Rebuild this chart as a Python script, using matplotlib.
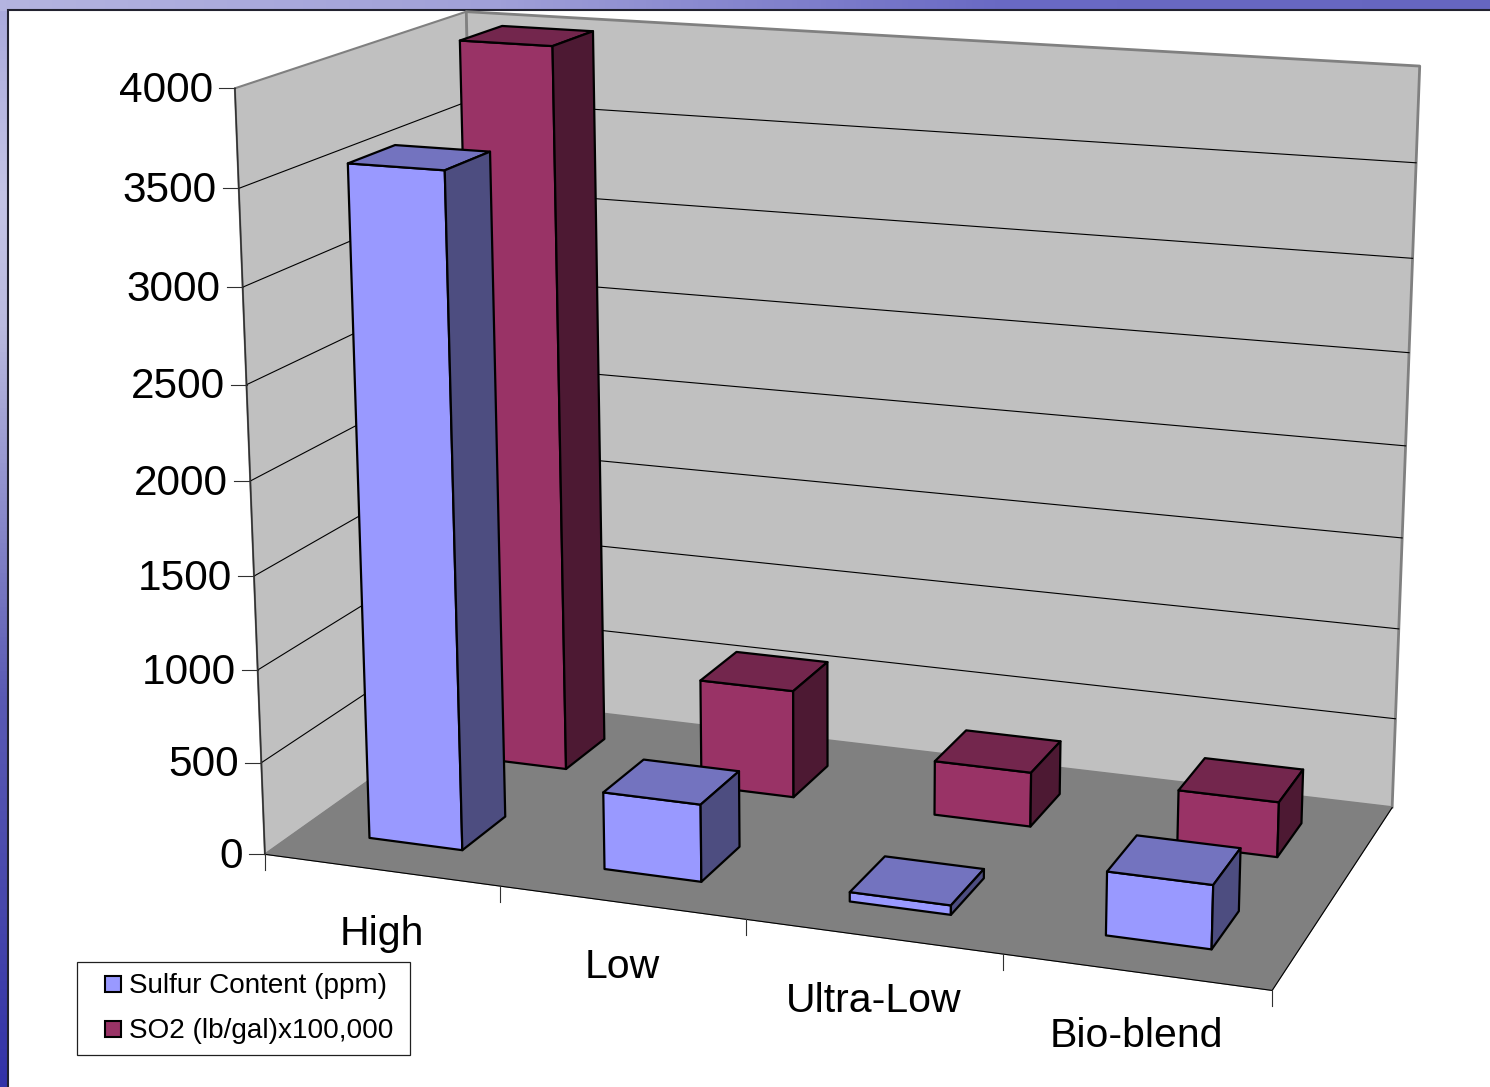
# Imports
import numpy as np
import matplotlib.pyplot as plt
from matplotlib.patches import Polygon, Rectangle
from matplotlib.colors import LinearSegmentedColormap

plt.rcParams['font.family'] = ['Liberation Sans', 'DejaVu Sans']

# Data
categories = ["High", "Low", "Ultra-Low", "Bio-blend"]
sulfur_ppm = [3580, 415, 50, 333]
so2_lb_gal = [4000, 600, 300, 300]
series_names = ["Sulfur Content (ppm)", "SO2 (lb/gal)x100,000"]
value_ticks = [0, 500, 1000, 1500, 2000, 2500, 3000, 3500, 4000]
value_max = 4000

# Shades for front, top and side faces
blue_faces = ["#9999FF", "#7373BF", "#4D4D80"]
red_faces = ["#993366", "#73264D", "#4D1933"]

# Box corners in (category, depth, height) and where they land on the canvas
box_corners = np.array([[0, 0, 0], [1, 0, 0], [1, 1, 0], [0, 1, 0], [0, 0, 1], [0, 1, 1], [1, 1, 1]], float)
canvas_corners = np.array([[264, 855], [1272, 990], [1392, 808], [484, 699], [236, 88], [465, 12], [1420, 66]], float)


# Fit the perspective camera
def fit_camera(src, dst):
    rows = []
    for (a, b, c), (x, y) in zip(src, dst):
        rows.append([a, b, c, 1, 0, 0, 0, 0, -x * a, -x * b, -x * c, -x])
        rows.append([0, 0, 0, 0, a, b, c, 1, -y * a, -y * b, -y * c, -y])
    return np.linalg.svd(np.array(rows))[2][-1].reshape(3, 4)


camera = fit_camera(box_corners, canvas_corners)


def project(cat, depth, value):
    # cat runs 0..len(categories), depth 0..1 front to back
    p = camera @ np.array([cat / len(categories), depth, value / value_max, 1.0])
    return p[0] / p[2], p[1] / p[2]


fig = plt.figure(figsize=(14.9, 10.87), dpi=100)
ax = fig.add_axes([0, 0, 1, 1])
ax.axis("off")

# Slide background
left_strip = LinearSegmentedColormap.from_list("left", [(0, "#A9A9DC"), (0.18, "#C4C4E6"), (0.3, "#BABADF"),
                                                        (0.46, "#8E8ECC"), (0.64, "#5A5AB4"), (0.83, "#4848AC"),
                                                        (1, "#3333A8")])
top_strip = LinearSegmentedColormap.from_list("top", ["#B4B4E0", "#A0A0D8", "#6A6AC4", "#6666C0"])
ax.imshow(np.linspace(0, 1, 256).reshape(-1, 1), extent=(0, 10, 1087, 0), cmap=left_strip, aspect="auto", zorder=0)
ax.imshow(np.linspace(0, 1, 256).reshape(1, -1), extent=(0, 1490, 11, 0), cmap=top_strip, aspect="auto", zorder=0)
ax.set_xlim(0, 1490)
ax.set_ylim(1087, 0)
ax.add_patch(Rectangle((8, 10), 1500, 1100, facecolor="white", edgecolor="#222230", linewidth=1.5, zorder=1))


def face(points, color, edge="black", lw=1.6, z=3):
    ax.add_patch(Polygon([project(*p) for p in points], closed=True, facecolor=color,
                         edgecolor=edge, linewidth=lw, joinstyle="round", zorder=z))


# Walls and floor
n = len(categories)
face([(0, 0, 0), (0, 1, 0), (0, 1, value_max), (0, 0, value_max)], "#C0C0C0", edge="#808080", lw=1.5, z=2)
face([(0, 1, 0), (n, 1, 0), (n, 1, value_max), (0, 1, value_max)], "#C0C0C0", edge="#808080", lw=2.0, z=2)
face([(0, 0, 0), (n, 0, 0), (n, 1, 0), (0, 1, 0)], "#808080", edge="#808080", lw=0.8, z=2.1)

# Gridlines on the two walls
for v in value_ticks[1:-1]:
    pts = [project(0, 0, v), project(0, 1, v), project(n, 1, v)]
    ax.plot(*zip(*pts), color="black", linewidth=0.8, zorder=2.5)

# Axis lines
ax.plot(*zip(project(0, 0, 0), project(0, 0, value_max)), color="#303030", linewidth=1.1, zorder=2.6)
ax.plot(*zip(project(0, 0, 0), project(n, 0, 0), project(n, 1, 0)), color="black", linewidth=0.8, zorder=2.6)

# Value axis ticks and labels
for v in value_ticks:
    x, y = project(0, 0, v)
    ax.plot([x - 16, x], [y, y], color="#303030", linewidth=0.8, zorder=2.6)
    ax.text(x - 22, y - 2, str(v), ha="right", va="center_baseline", fontsize=30.5, color="black", zorder=6)

# Category ticks and labels
for i in range(n + 1):
    x, y = project(i, 0, 0)
    ax.plot([x, x], [y, y + 16], color="#303030", linewidth=0.8, zorder=2.6)
for i, name in enumerate(categories):
    x, y = project(i + 0.5, 0, 0)
    ax.text(x, y + 60, name, ha="center", va="center_baseline", fontsize=29.5, color="black", zorder=6)


# Bars, back row first
def bar(cat, row, value, faces):
    width = 0.4
    a, b = cat + 0.5 - width / 2, cat + 0.5 + width / 2
    c, d = (row + 0.5 - width / 2) / 2, (row + 0.5 + width / 2) / 2
    z = 3 + (1 - row)
    face([(a, c, 0), (b, c, 0), (b, c, value), (a, c, value)], faces[0], z=z)
    face([(a, c, value), (b, c, value), (b, d, value), (a, d, value)], faces[1], z=z)
    face([(b, c, 0), (b, d, 0), (b, d, value), (b, c, value)], faces[2], z=z)


for i in range(n):
    bar(i, 1, so2_lb_gal[i], red_faces)
for i in range(n):
    bar(i, 0, sulfur_ppm[i], blue_faces)

# Legend box
ax.add_patch(Rectangle((77, 962), 333, 93, facecolor="white", edgecolor="#202020", linewidth=0.9, zorder=7))
for name, shades, y_mid in zip(series_names, [blue_faces, red_faces], [984, 1029]):
    ax.add_patch(Rectangle((105, y_mid - 8), 16, 16, facecolor=shades[0], edgecolor="black", linewidth=1.5, zorder=8))
    ax.text(129, y_mid - 1, name, ha="left", va="center_baseline", fontsize=20.1, color="black", zorder=8)

fig.savefig("out.png", dpi=100)
